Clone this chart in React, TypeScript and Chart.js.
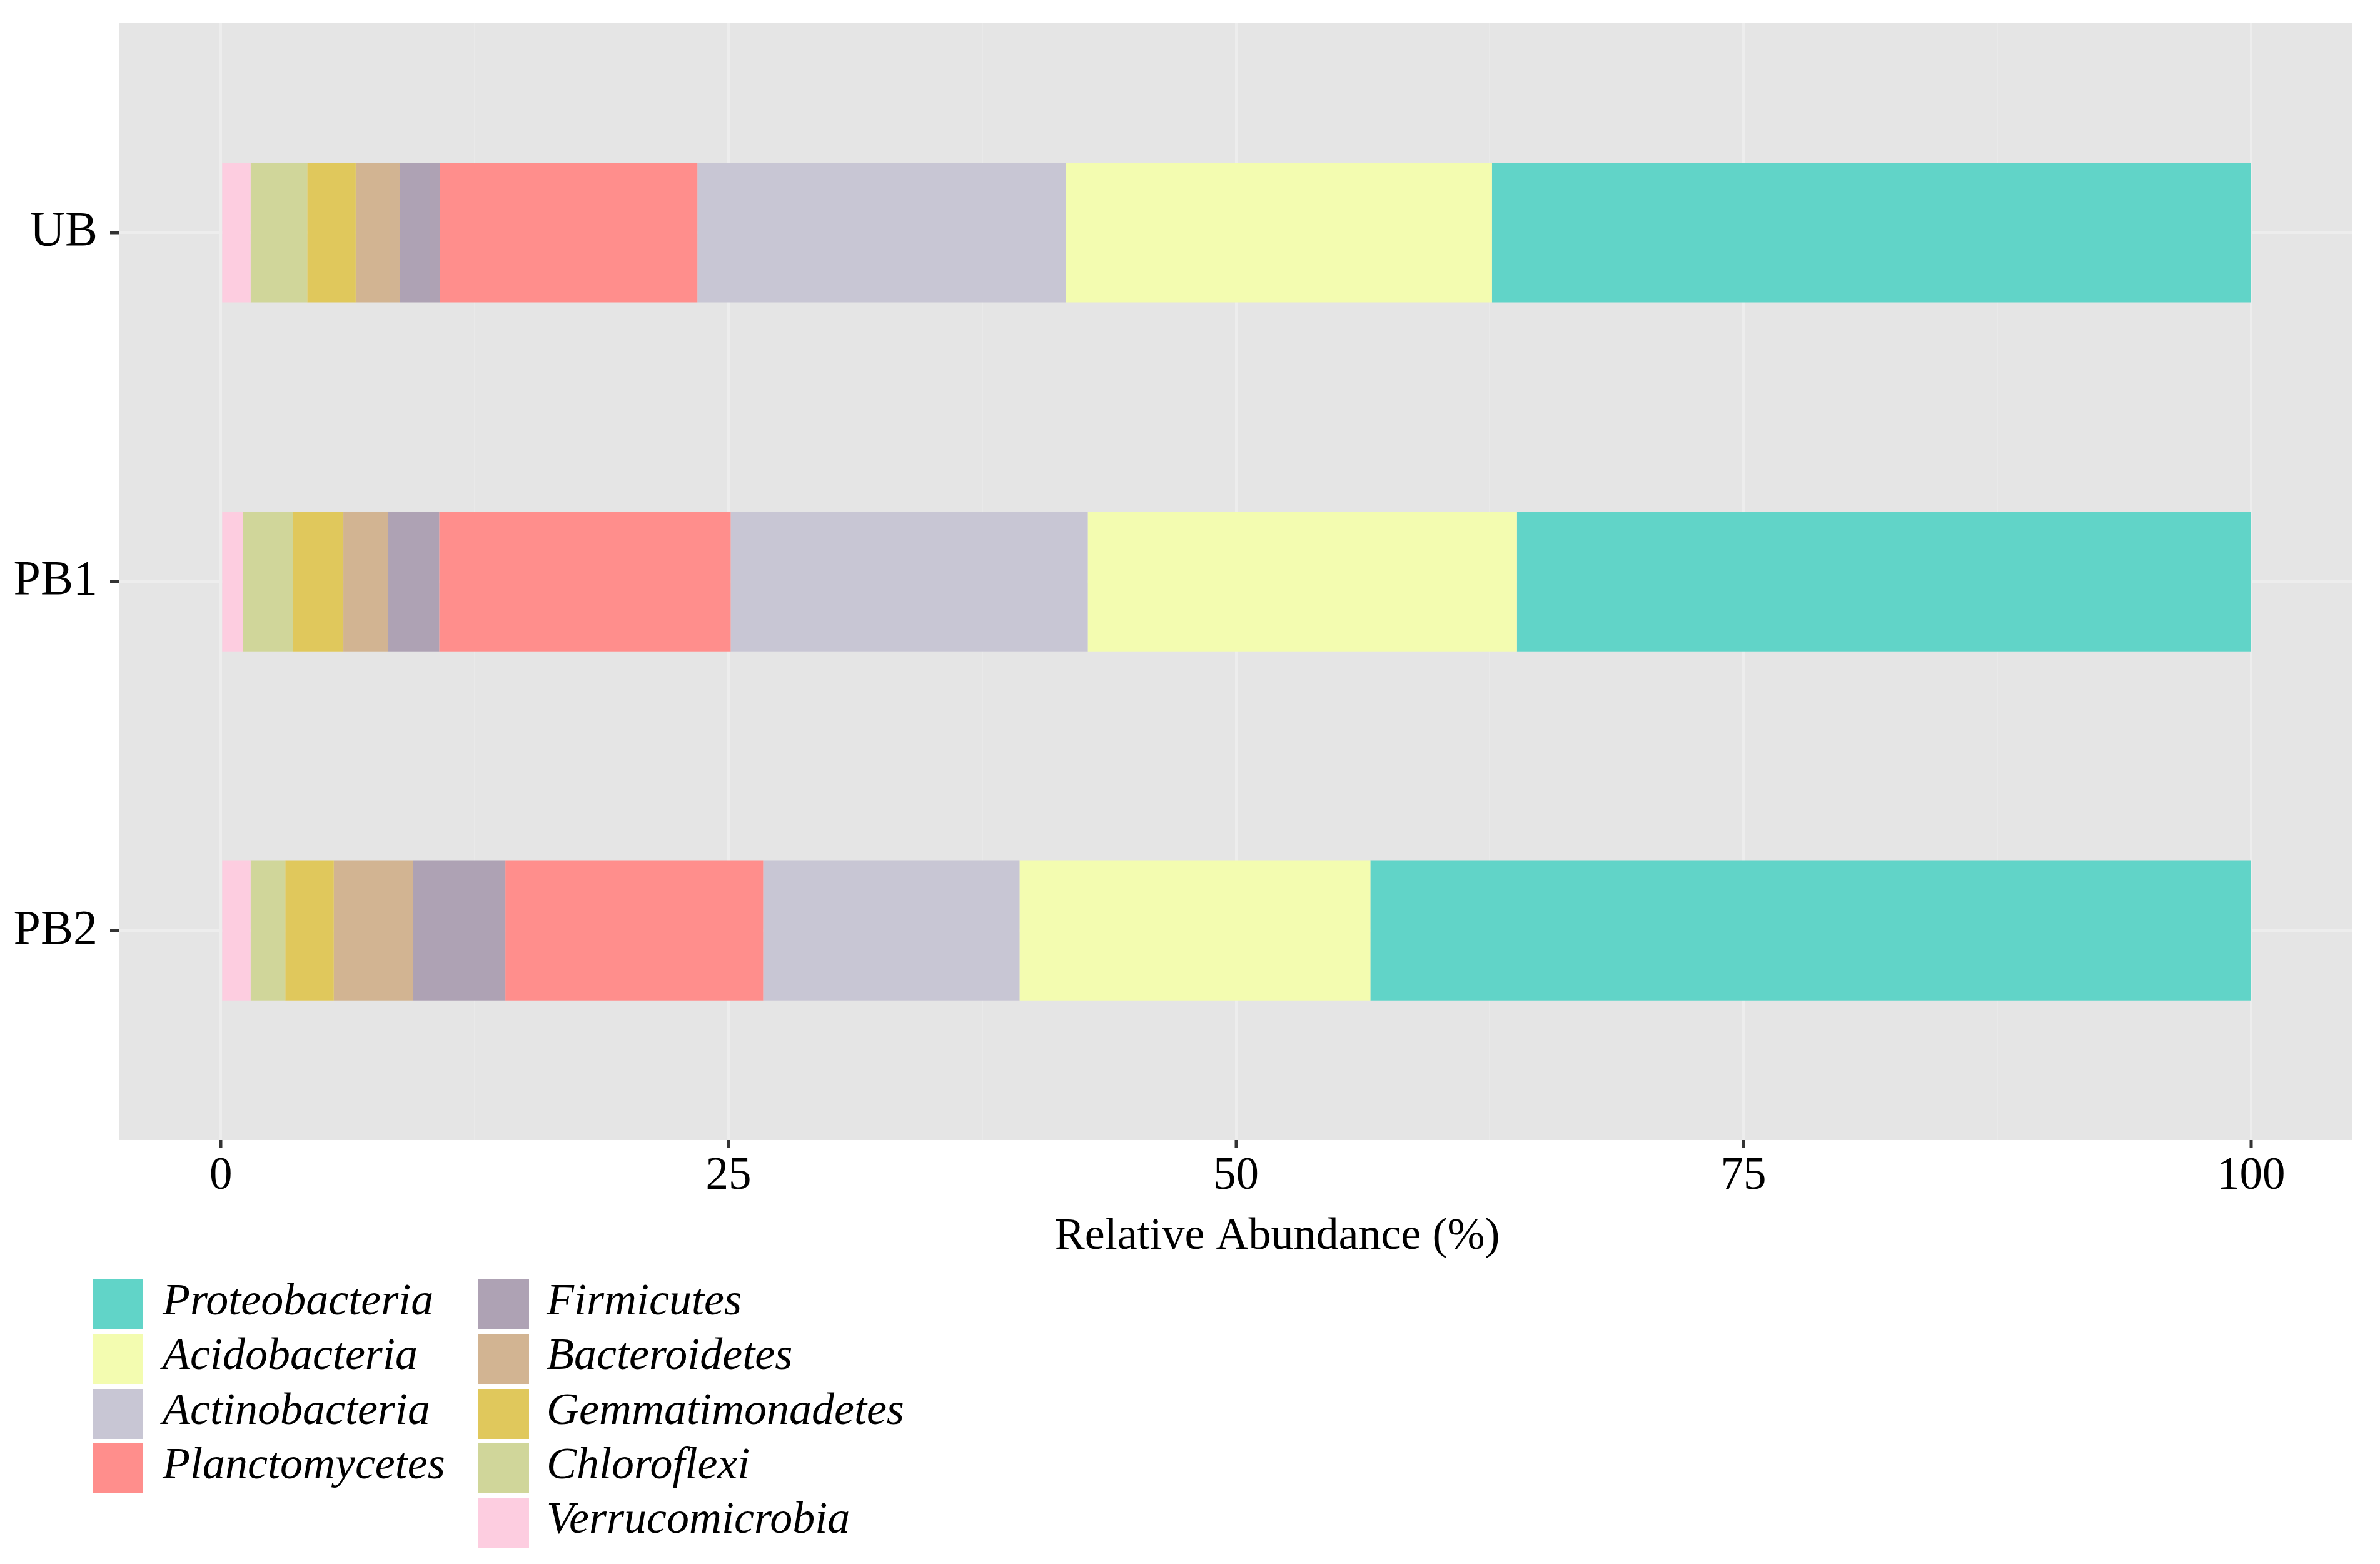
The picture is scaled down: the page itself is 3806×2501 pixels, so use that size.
import React, { useEffect, useRef } from "react";
import { Chart, registerables } from "chart.js";

Chart.register(...registerables);

const categories = ["UB", "PB1", "PB2"];
const phyla = [
  "Proteobacteria",
  "Acidobacteria",
  "Actinobacteria",
  "Planctomycetes",
  "Firmicutes",
  "Bacteroidetes",
  "Gemmatimonadetes",
  "Chloroflexi",
  "Verrucomicrobia",
];
const colors = [
  "#61d4c8",
  "#f3fcb0",
  "#c8c6d4",
  "#ff8e8c",
  "#aea2b4",
  "#d2b492",
  "#e0c85c",
  "#d0d69a",
  "#fdcde0",
];
const proteobacteria = [37.39, 36.17, 43.37];
const acidobacteria = [21.0, 21.14, 17.28];
const actinobacteria = [18.14, 17.59, 12.63];
const planctomycetes = [12.67, 14.36, 12.7];
const firmicutes = [2.0, 2.53, 4.54];
const bacteroidetes = [2.16, 2.19, 3.91];
const gemmatimonadetes = [2.39, 2.48, 2.39];
const chloroflexi = [2.79, 2.48, 1.71];
const verrucomicrobia = [1.46, 1.07, 1.46];
const seriesValues = [
  proteobacteria,
  acidobacteria,
  actinobacteria,
  planctomycetes,
  firmicutes,
  bacteroidetes,
  gemmatimonadetes,
  chloroflexi,
  verrucomicrobia,
];
const xTickLabels = [0, 25, 50, 75, 100];
const xTitle = "Relative Abundance (%)";

const W = 3806;
const H = 2501;
const SERIF = '"Liberation Serif", "Times New Roman", serif';

export default function App() {
  const ref = useRef<HTMLCanvasElement | null>(null);

  useEffect(() => {
    if (!ref.current) return;
    const allTicks: number[] = [];
    for (let i = 0; i < xTickLabels.length; i++) {
      allTicks.push(xTickLabels[i]);
      if (i < xTickLabels.length - 1) allTicks.push((xTickLabels[i] + xTickLabels[i + 1]) / 2);
    }
    const isMajor = (v: number) => xTickLabels.indexOf(v) >= 0;

    const datasets = phyla
      .map((name, i) => ({
        label: name,
        data: categories.map((_, j) => ({ x: seriesValues[i][j], y: j + 1 })),
        backgroundColor: colors[i],
        borderWidth: 0,
        categoryPercentage: 1,
        barPercentage: 0.4,
      }))
      .reverse();

    const panelBg = {
      id: "panelBg",
      beforeDraw(chart: any) {
        const { ctx, chartArea } = chart;
        ctx.save();
        ctx.fillStyle = "#e5e5e5";
        ctx.fillRect(chartArea.left, chartArea.top, chartArea.right - chartArea.left, chartArea.bottom - chartArea.top);
        ctx.restore();
      },
    };
    const axisTitle = {
      id: "axisTitle",
      afterDraw(chart: any) {
        const { ctx, chartArea } = chart;
        ctx.save();
        ctx.font = `72px ${SERIF}`;
        ctx.fillStyle = "#000";
        ctx.textAlign = "center";
        ctx.textBaseline = "alphabetic";
        ctx.fillText(xTitle, (chartArea.left + chartArea.right) / 2 + 66, 1997);
        ctx.restore();
      },
    };

    const chart = new Chart(ref.current, {
      type: "bar",
      data: { datasets: datasets as any },
      plugins: [panelBg, axisTitle],
      options: {
        animation: false,
        responsive: false,
        devicePixelRatio: 1,
        indexAxis: "y",
        layout: { padding: { top: 37, right: 44, bottom: H - 1823 - 120, left: 0 } },
        plugins: { legend: { display: false }, tooltip: { enabled: false } },
        scales: {
          x: {
            type: "linear",
            stacked: true,
            offset: false,
            min: -5,
            max: 105,
            afterBuildTicks: (scale: any) => {
              scale.ticks = allTicks.map((v) => ({ value: v }));
            },
            afterFit: (scale: any) => {
              scale.height = 120;
              scale.paddingLeft = 0;
              scale.paddingRight = 0;
            },
            border: { display: false },
            grid: {
              offset: false,
              color: (ctx: any) => (ctx.tick && isMajor(ctx.tick.value) ? "#ededed" : "#e9e9e9"),
              lineWidth: (ctx: any) => (ctx.tick && isMajor(ctx.tick.value) ? 4 : 2),
              tickColor: (ctx: any) => (ctx.tick && isMajor(ctx.tick.value) ? "#333333" : "rgba(0,0,0,0)"),
              tickWidth: 5,
              tickLength: 13,
              drawTicks: true,
            },
            ticks: {
              autoSkip: false,
              maxRotation: 0,
              padding: 2,
              color: "#000",
              font: { family: SERIF, size: 73 },
              callback: (v: any) => (isMajor(Number(v)) ? String(v) : ""),
            },
          },
          y: {
            type: "linear",
            stacked: true,
            reverse: true,
            offset: false,
            min: 0.4,
            max: 3.6,
            afterBuildTicks: (scale: any) => {
              scale.ticks = categories.map((_, i) => ({ value: i + 1 }));
            },
            afterFit: (scale: any) => {
              scale.width = 191;
              scale.paddingTop = 0;
              scale.paddingBottom = 0;
            },
            border: { display: false },
            grid: {
              offset: false,
              color: "#ededed",
              lineWidth: 4,
              tickColor: "#333333",
              tickWidth: 5,
              tickLength: 15,
            },
            ticks: {
              autoSkip: false,
              padding: 20,
              color: "#000",
              font: { family: SERIF, size: 78 },
              callback: (v: any) => categories[Math.round(Number(v)) - 1] ?? "",
            },
          },
        },
      } as any,
    });
    return () => chart.destroy();
  }, []);

  const col1 = phyla.slice(0, 4);
  const col2 = phyla.slice(4);
  const legendItem = (name: string, idx: number, row: number, keyX: number, textX: number) => {
    const top = 2046 + row * 87.3;
    return (
      <React.Fragment key={name}>
        <div
          style={{
            position: "absolute",
            left: keyX,
            top,
            width: 81,
            height: 80,
            background: colors[idx],
          }}
        />
        <div
          style={{
            position: "absolute",
            left: textX,
            top: top - 8,
            height: 80,
            lineHeight: "80px",
            fontFamily: SERIF,
            fontStyle: "italic",
            fontSize: 72,
            color: "#000",
            whiteSpace: "nowrap",
          }}
        >
          {name}
        </div>
      </React.Fragment>
    );
  };

  return (
    <div style={{ position: "absolute", left: 0, top: 0, width: W, height: H, overflow: "hidden", background: "#fff" }}>
      <canvas ref={ref} width={W} height={H} style={{ position: "absolute", left: 0, top: 0, width: W, height: H }} />
      {col1.map((n, r) => legendItem(n, r, r, 148, 260))}
      {col2.map((n, r) => legendItem(n, r + 4, r, 765, 874))}
    </div>
  );
}
